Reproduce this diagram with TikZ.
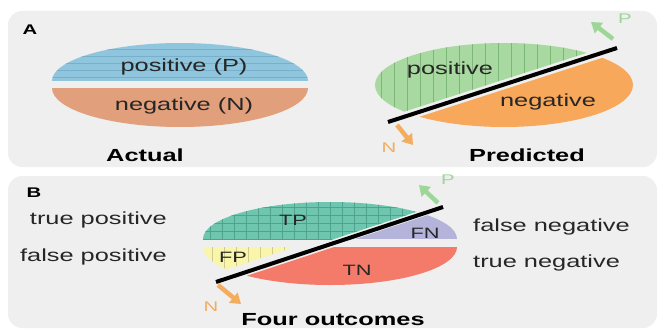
\documentclass[tikz,border=0pt]{standalone}
\usepackage{fontspec}
\setmainfont{Liberation Sans}[FakeStretch=1.45]
\usepackage{tikz}
\usetikzlibrary{arrows.meta}
\definecolor{panelbg}{HTML}{EFEFEF}
\definecolor{actpos}{HTML}{8FC6DE}
\definecolor{actposln}{HTML}{78AFCB}
\definecolor{actneg}{HTML}{E19F7C}
\definecolor{prdpos}{HTML}{A8D9A0}
\definecolor{prdposln}{HTML}{7DB677}
\definecolor{prdneg}{HTML}{F8A85A}
\definecolor{tpcol}{HTML}{6EC6AE}
\definecolor{tpln}{HTML}{4FA38E}
\definecolor{fncol}{HTML}{B4B3D9}
\definecolor{fpcol}{HTML}{F9F6AC}
\definecolor{fpln}{HTML}{CFCB8E}
\definecolor{tncol}{HTML}{F47B69}
\definecolor{pcol}{HTML}{9ED69A}
\definecolor{ncol}{HTML}{F4AC5F}

\begin{document}
\begin{tikzpicture}[x=1pt,y=-1pt,
  panel/.style={fill=panelbg,rounded corners=14pt},
  lbl/.style={font=\fontsize{17.5}{20}\selectfont,text=black!85,inner sep=0pt},
  cellname/.style={font=\fontsize{15}{18}\selectfont,text=black!85,inner sep=0pt},
  ttl/.style={font=\bfseries\fontsize{17.5}{20}\selectfont,inner sep=0pt},
  plabel/.style={font=\bfseries\fontsize{14}{16}\selectfont,inner sep=0pt},
  cutline/.style={line width=4pt,black},
  arr/.style={line width=4.5pt,-{Triangle[length=10pt,width=13pt]}},
  arrlbl/.style={font=\fontsize{14}{16}\selectfont,inner sep=0pt}]
\useasboundingbox (0,0) rectangle (660,329);
\fill[panel] (8,11) rectangle (657,167);
\fill[panel] (8,176) rectangle (657,328);
\node[plabel] (A) at (30,30) {A};
\node[plabel] (B) at (34,193) {B};
% actual
\begin{scope}
  \clip (40,30) rectangle (320,81);
  \clip (180,81) ellipse [x radius=128pt, y radius=38pt];
  \fill[actpos] (40,30) rectangle (320,81);
  \foreach \y in {49,56,...,81} \draw[actposln,line width=0.5pt] (40,\y) -- (320,\y);
\end{scope}
\begin{scope}
  \clip (40,88) rectangle (320,140);
  \fill[actneg] (180,88) ellipse [x radius=128pt, y radius=39pt];
\end{scope}
\node[lbl] (pos) at (184,67) {positive (P)};
\node[lbl] (neg) at (184,106) {negative (N)};
\node[ttl] (act) at (145,155) {Actual};
% predicted
\coordinate (pa) at (388,122);
\coordinate (pb) at (617,48);
\begin{scope}
  \clip (273,154) -- (732,6) -- (732,-50) -- (273,-50) -- cycle;
  \clip (504,85) ellipse [x radius=129pt, y radius=42pt];
  \fill[prdpos] (370,30) rectangle (640,140);
  \foreach \x in {381,394,...,600} \draw[prdposln,line width=0.5pt] (\x,30) -- (\x,140);
\end{scope}
\begin{scope}
  \clip (273,164) -- (732,16) -- (732,200) -- (273,200) -- cycle;
  \fill[prdneg] (504,85) ellipse [x radius=129pt, y radius=42pt];
\end{scope}
\draw[cutline] (pa) -- (pb);
\node[lbl] (ppos) at (450,70) {positive};
\node[lbl] (pneg) at (548,102) {negative};
\node[ttl] (prd) at (527,155) {Predicted};
\coordinate (pt1) at (613,39);
\coordinate (pt2) at (591,22);
\draw[arr,pcol] (pt1) -- (pt2);
\node[arrlbl,text=pcol] (plbl) at (625,19) {P};
\coordinate (nt1) at (397,125);
\coordinate (nt2) at (413,145);
\draw[arr,ncol] (nt1) -- (nt2);
\node[arrlbl,text=ncol] (nlbl) at (389,148) {N};
% four outcomes
\coordinate (qa) at (216,282);
\coordinate (qb) at (443,207);
\begin{scope}
  \clip (195,190) rectangle (465,239);
  \clip (330,239) ellipse [x radius=127pt, y radius=37pt];
  \begin{scope}
    \clip (102,315.5) -- (557,165.5) -- (557,150) -- (102,150) -- cycle;
    \fill[tpcol] (195,190) rectangle (465,239);
    \foreach \x in {210,222,...,460} \draw[tpln,line width=0.5pt] (\x,190) -- (\x,239);
    \foreach \y in {207,215,...,239} \draw[tpln,line width=0.5pt] (195,\y) -- (465,\y);
  \end{scope}
  \clip (102,322.5) -- (557,172.5) -- (557,300) -- (102,300) -- cycle;
  \fill[fncol] (195,190) rectangle (465,239);
\end{scope}
\begin{scope}
  \clip (195,247) rectangle (465,300);
  \clip (330,247) ellipse [x radius=127pt, y radius=38pt];
  \begin{scope}
    \clip (102,310.5) -- (557,160.5) -- (557,150) -- (102,150) -- cycle;
    \fill[fpcol] (195,247) rectangle (465,300);
    \foreach \x in {212,224,...,330} \draw[fpln,line width=0.5pt] (\x,247) -- (\x,300);
  \end{scope}
  \clip (102,323.5) -- (557,173.5) -- (557,320) -- (102,320) -- cycle;
  \fill[tncol] (195,247) rectangle (465,300);
\end{scope}
\draw[cutline] (qa) -- (qb);
\node[cellname] (tp) at (293,220) {TP};
\node[cellname] (fn) at (425,233) {FN};
\node[cellname] (fp) at (233,257) {FP};
\node[cellname] (tn) at (357,270) {TN};
\node[lbl,anchor=east] (tpt) at (167,220) {true positive};
\node[lbl,anchor=east] (fpt) at (167,257) {false positive};
\node[lbl,anchor=west] (fnt) at (473,227) {false negative};
\node[lbl,anchor=west] (tnt) at (473,263) {true negative};
\node[ttl] (four) at (333,320) {Four outcomes};
\coordinate (qp1) at (438,203);
\coordinate (qp2) at (419,185);
\draw[arr,pcol] (qp1) -- (qp2);
\node[arrlbl,text=pcol] (qplbl) at (448,180) {P};
\coordinate (qn1) at (218,285);
\coordinate (qn2) at (241,304);
\draw[arr,ncol] (qn1) -- (qn2);
\node[arrlbl,text=ncol] (qnlbl) at (211,307) {N};
\end{tikzpicture}
\end{document}
